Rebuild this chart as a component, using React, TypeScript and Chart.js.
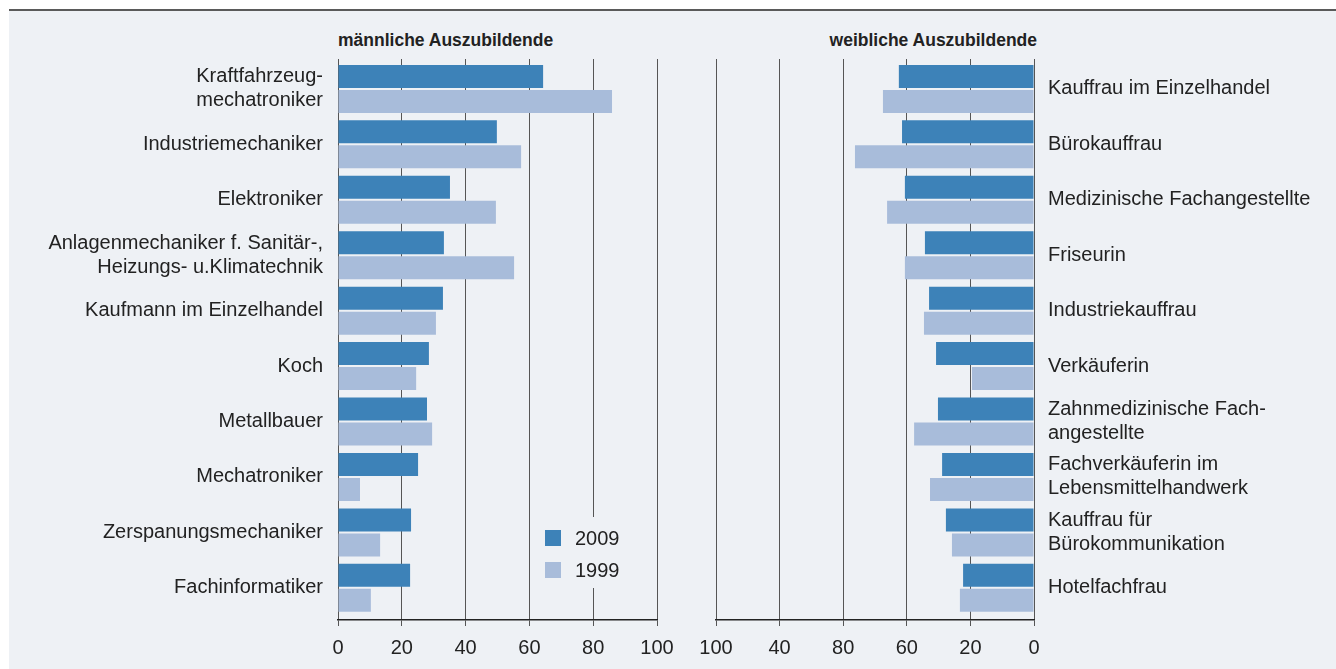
import React, { useEffect, useRef } from "react";
import { Chart, registerables } from "chart.js";

Chart.register(...registerables);

const maleCategories: (string | string[])[] = [
  ["Kraftfahrzeug-", "mechatroniker"],
  "Industriemechaniker",
  "Elektroniker",
  ["Anlagenmechaniker f. Sanitär-,", "Heizungs- u.Klimatechnik"],
  "Kaufmann im Einzelhandel",
  "Koch",
  "Metallbauer",
  "Mechatroniker",
  "Zerspanungsmechaniker",
  "Fachinformatiker",
];
const male2009 = [64.3, 49.8, 35.1, 33.2, 32.9, 28.5, 27.9, 25.1, 22.9, 22.6];
const male1999 = [85.9, 57.4, 49.5, 55.2, 30.7, 24.5, 29.5, 6.9, 13.2, 10.3];

const femaleCategories: (string | string[])[] = [
  "Kauffrau im Einzelhandel",
  "Bürokauffrau",
  "Medizinische Fachangestellte",
  "Friseurin",
  "Industriekauffrau",
  "Verkäuferin",
  ["Zahnmedizinische Fach-", "angestellte"],
  ["Fachverkäuferin im", "Lebensmittelhandwerk"],
  ["Kauffrau für", "Bürokommunikation"],
  "Hotelfachfrau",
];
const female2009 = [42.5, 41.5, 40.6, 34.3, 33.0, 30.8, 30.2, 28.9, 27.7, 22.3];
const female1999 = [47.5, 56.3, 46.2, 40.6, 34.6, 19.5, 37.7, 32.7, 25.8, 23.3];

const seriesLabels = ["2009", "1999"];
const maleTickLabels = ["0", "20", "40", "60", "80", "100"];
// female axis labels as printed, left to right
const femaleTickLabels = ["100", "40", "80", "60", "20", "0"];

const titleMale = "männliche Auszubildende";
const titleFemale = "weibliche Auszubildende";

const DARK = "#3d82b8";
const LIGHT = "#a8bcda";
const PANEL = "#eef1f5";
const TEXT = "#222222";
const GRID = "#555555";
const FONT = "'Liberation Sans', Arial, sans-serif";

function makeConfig(
  cats: (string | string[])[],
  d09: number[],
  d99: number[],
  side: "male" | "female"
): any {
  const isMale = side === "male";
  const legendPlugin = {
    id: "miniLegend",
    afterDraw(chart: any) {
      if (!isMale) return;
      const ctx = chart.ctx;
      ctx.save();
      ctx.fillStyle = PANEL;
      ctx.fillRect(535, 517, 115, 71);
      const colors = [DARK, LIGHT];
      const ys = [538, 570];
      ctx.font = `20px ${FONT}`;
      ctx.textBaseline = "middle";
      ctx.textAlign = "left";
      for (let i = 0; i < 2; i++) {
        ctx.fillStyle = colors[i];
        ctx.fillRect(545, ys[i] - 8, 16, 16);
        ctx.fillStyle = TEXT;
        ctx.fillText(seriesLabels[i], 575, ys[i] + 1);
      }
      ctx.restore();
    },
  };
  return {
    type: "bar",
    data: {
      datasets: [
        {
          label: seriesLabels[0],
          data: d09.map((v, i) => ({ x: v, y: i })),
          backgroundColor: DARK,
          borderWidth: 0,
        },
        {
          label: seriesLabels[1],
          data: d99.map((v, i) => ({ x: v, y: i })),
          backgroundColor: LIGHT,
          borderWidth: 0,
        },
      ],
    },
    plugins: [legendPlugin],
    options: {
      indexAxis: "y",
      responsive: false,
      maintainAspectRatio: false,
      animation: false,
      datasets: {
        bar: { categoryPercentage: 0.902, barPercentage: 0.92 },
      },
      layout: {
        padding: isMale
          ? { top: 59, right: 23, left: 0, bottom: 0 }
          : { top: 59, right: 0, left: 36, bottom: 0 },
      },
      plugins: {
        legend: { display: false },
        tooltip: { enabled: false },
        title: { display: false },
      },
      scales: {
        x: {
          type: "linear",
          position: "bottom",
          min: 0,
          max: 100,
          offset: false,
          reverse: !isMale,
          afterBuildTicks: (s: any) => {
            s.ticks = [0, 20, 40, 60, 80, 100].map((v) => ({ value: v }));
          },
          afterFit: (s: any) => {
            s.height = 49;
            s.paddingLeft = 0;
            s.paddingRight = 0;
          },
          ticks: {
            autoSkip: false,
            maxRotation: 0,
            padding: 10,
            color: TEXT,
            font: { family: FONT, size: 20 },
            callback: (v: number) => {
              const idx = Math.round(v / 20);
              return isMale
                ? maleTickLabels[idx]
                : femaleTickLabels[femaleTickLabels.length - 1 - idx];
            },
          },
          grid: {
            color: GRID,
            lineWidth: 1,
            tickLength: 6,
            drawTicks: true,
            drawOnChartArea: true,
            offset: false,
          },
          border: { display: true, color: "#222", width: 1.5 },
        },
        y: {
          type: "linear",
          position: isMale ? "left" : "right",
          reverse: true,
          offset: false,
          min: -0.54,
          max: 9.58,
          afterBuildTicks: (s: any) => {
            s.ticks = cats.map((_, i) => ({ value: i }));
          },
          afterFit: (s: any) => {
            s.width = isMale ? 338 : 302;
            s.paddingTop = 0;
            s.paddingBottom = 0;
          },
          ticks: {
            autoSkip: false,
            padding: isMale ? 15 : 14,
            color: TEXT,
            font: { family: FONT, size: 20, lineHeight: 1.2 },
            callback: (v: number) => cats[Math.round(v)],
          },
          grid: { display: false, drawTicks: false, offset: false },
          border: { display: false },
        },
      },
    },
  };
}

export default function App() {
  const leftRef = useRef<HTMLCanvasElement | null>(null);
  const rightRef = useRef<HTMLCanvasElement | null>(null);

  useEffect(() => {
    const c1 = new Chart(
      leftRef.current as HTMLCanvasElement,
      makeConfig(maleCategories, male2009, male1999, "male")
    );
    const c2 = new Chart(
      rightRef.current as HTMLCanvasElement,
      makeConfig(femaleCategories, female2009, female1999, "female")
    );
    return () => {
      c1.destroy();
      c2.destroy();
    };
  }, []);

  const titleStyle: React.CSSProperties = {
    position: "absolute",
    top: 30,
    fontFamily: FONT,
    fontWeight: "bold",
    fontSize: 17.5,
    lineHeight: "20px",
    color: TEXT,
    whiteSpace: "nowrap",
  };

  return (
    <div
      style={{
        position: "fixed",
        left: 0,
        top: 0,
        width: 1336,
        height: 669,
        background: "#ffffff",
        overflow: "hidden",
      }}
    >
      <div
        style={{
          position: "absolute",
          left: 9,
          top: 11,
          width: 1327,
          height: 658,
          background: PANEL,
        }}
      />
      <div
        style={{
          position: "absolute",
          left: 9,
          top: 9,
          width: 1327,
          height: 2,
          background: "#5a5a5a",
        }}
      />
      <div style={{ ...titleStyle, left: 338 }}>{titleMale}</div>
      <div style={{ ...titleStyle, right: 299 }}>{titleFemale}</div>
      <canvas
        ref={leftRef}
        width={680}
        height={669}
        style={{ position: "absolute", left: 0, top: 0, width: 680, height: 669 }}
      />
      <canvas
        ref={rightRef}
        width={656}
        height={669}
        style={{ position: "absolute", left: 680, top: 0, width: 656, height: 669 }}
      />
    </div>
  );
}
